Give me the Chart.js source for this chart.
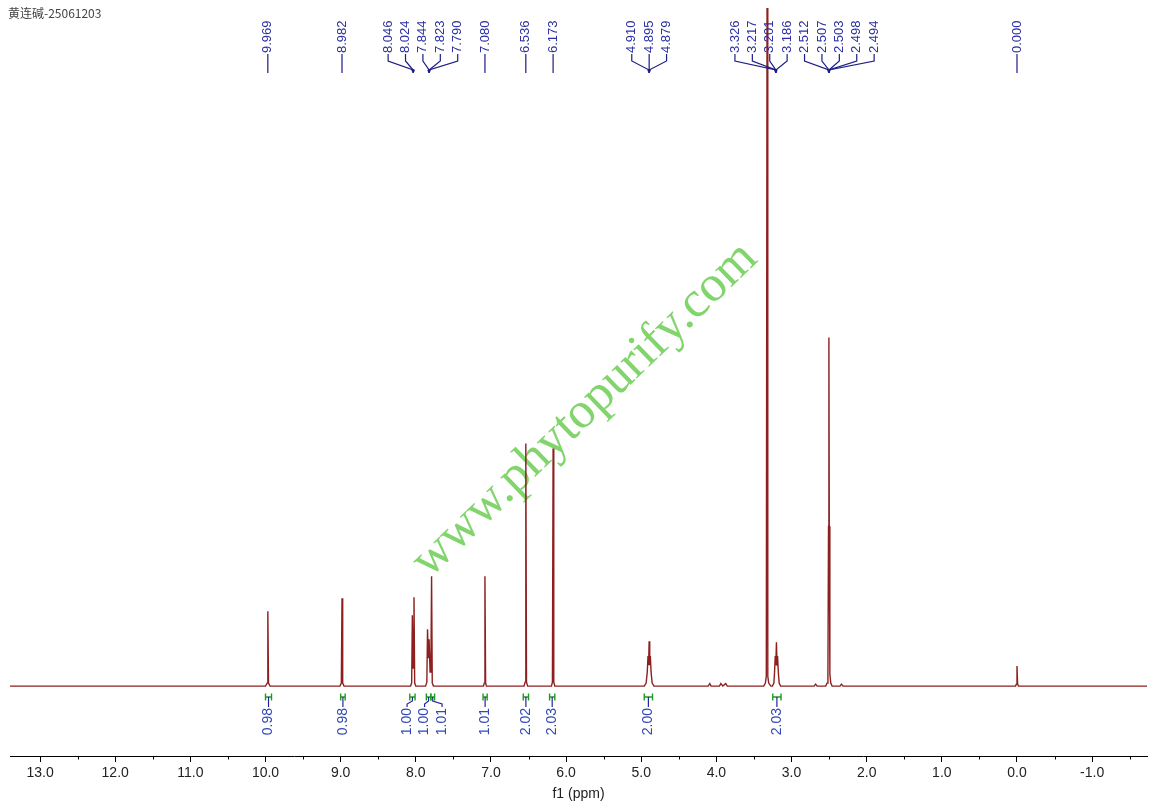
<!DOCTYPE html>
<html>
<head>
<meta charset="utf-8">
<script src="https://cdn.jsdelivr.net/npm/chart.js@4.4.0/dist/chart.umd.min.js"></script>
<style>
html, body { margin: 0; padding: 0; background: #fff; }
</style>
</head>
<body>
<canvas id="nmr" width="1153" height="809"></canvas>
<script>
// spectrum: [ppm, intensity]
const spectrum = [
  [13.40, 0],
  [10.000, 0], [9.978, 3], [9.969, 75], [9.960, 3], [9.940, 0],
  [9.010, 0], [8.991, 3], [8.982, 88], [8.973, 3], [8.955, 0],
  [8.070, 0], [8.055, 3], [8.046, 71], [8.035, 18], [8.024, 89], [8.015, 3], [8.000, 0],
  [7.870, 0], [7.853, 4], [7.844, 57], [7.833, 28], [7.823, 47], [7.810, 14], [7.799, 18], [7.790, 110], [7.781, 3], [7.765, 0],
  [7.100, 0], [7.089, 3], [7.080, 110], [7.071, 3], [7.060, 0],
  [6.560, 0], [6.545, 4], [6.536, 243], [6.527, 4], [6.512, 0],
  [6.195, 0], [6.182, 4], [6.173, 238], [6.164, 4], [6.150, 0],
  [4.960, 0], [4.935, 3], [4.920, 14], [4.910, 30], [4.902, 21], [4.895, 45], [4.887, 21], [4.879, 30], [4.869, 14], [4.855, 3], [4.830, 0],
  [4.110, 0], [4.088, 2.5], [4.070, 0],
  [3.960, 0], [3.940, 2.5], [3.915, 0], [3.876, 2.5], [3.855, 0],
  [3.370, 0], [3.348, 3], [3.336, 10], [3.326, 690], [3.316, 10], [3.304, 3], [3.275, 0],
  [3.255, 0], [3.235, 3], [3.226, 14], [3.217, 30], [3.209, 21], [3.201, 44], [3.193, 21], [3.186, 30], [3.176, 14], [3.165, 3], [3.145, 0],
  [2.700, 0], [2.680, 2], [2.660, 0],
  [2.545, 0], [2.528, 3], [2.516, 12], [2.508, 160], [2.503, 349], [2.498, 160], [2.490, 12], [2.478, 3], [2.460, 0],
  [2.355, 0], [2.336, 2], [2.315, 0],
  [0.020, 0], [0.008, 2], [0.000, 20], [-0.008, 2], [-0.020, 0],
  [-1.73, 0]
]

// peak picks, grouped the way the lines join
const peakGroups = [
  ['9.969'], ['8.982'], ['8.046', '8.024'], ['7.844', '7.823', '7.790'],
  ['7.080'], ['6.536'], ['6.173'], ['4.910', '4.895', '4.879'],
  ['3.326', '3.217', '3.201', '3.186'],
  ['2.512', '2.507', '2.503', '2.498', '2.494'], ['0.000']
]

// integrals
const intFrom  = [10.00, 9.00, 8.08, 7.86, 7.80, 7.105, 6.57, 6.22, 4.96, 3.25]
const intTo    = [9.92, 8.94, 8.01, 7.80, 7.75, 7.05, 6.50, 6.15, 4.85, 3.14]
const intValue = [0.98, 0.98, 1.00, 1.00, 1.01, 1.01, 2.02, 2.03, 2.00, 2.03]

const tickValues = [13, 12, 11, 10, 9, 8, 7, 6, 5, 4, 3, 2, 1, 0, -1]
const minorTicks = [13.5, 12.5, 11.5, 10.5, 9.5, 8.5, 7.5, 6.5, 5.5, 4.5, 3.5, 2.5, 1.5, 0.5, -0.5, -1.5]

const sampleName = '黄连碱-25061203'
const watermark = 'www.phytopurify.com'

const SANS = '"Liberation Sans", Arial, sans-serif'

// push labels apart so they keep a fixed gap, centred on their targets
function spread(targets, gap) {
  let cl = targets.map((t, i) => ({ idx: [i], c: t }))
  let changed = true
  while (changed) {
    changed = false
    for (let i = 0; i < cl.length - 1; i++) {
      const a = cl[i], b = cl[i + 1]
      const aEnd = a.c + (a.idx.length - 1) / 2 * gap
      const bStart = b.c - (b.idx.length - 1) / 2 * gap
      if (bStart - aEnd < gap) {
        const idx = a.idx.concat(b.idx)
        const c = idx.reduce((s, k) => s + targets[k], 0) / idx.length
        cl.splice(i, 2, { idx: idx, c: c })
        changed = true
        break
      }
    }
  }
  const pos = []
  cl.forEach(g => g.idx.forEach((k, j) => { pos[k] = g.c + (j - (g.idx.length - 1) / 2) * gap }))
  return pos
}

function median(a) {
  const s = a.slice().sort((p, q) => p - q)
  const m = Math.floor(s.length / 2)
  return s.length % 2 ? s[m] : (s[m - 1] + s[m]) / 2
}

const annotate = {
  id: 'annotate',
  beforeDatasetsDraw(chart) {
    const ctx = chart.ctx
    ctx.save()
    ctx.translate(585, 410)
    ctx.rotate(-44 * Math.PI / 180)
    ctx.font = '51px "Liberation Serif", "Times New Roman", serif'
    ctx.fillStyle = 'rgb(130,212,108)'
    ctx.textAlign = 'center'
    ctx.textBaseline = 'middle'
    ctx.fillText(watermark, 0, 0)
    ctx.restore()
  },
  afterDraw(chart) {
    const ctx = chart.ctx
    const xs = chart.scales.x
    const px = v => xs.getPixelForValue(v)
    const axisY = chart.chartArea.bottom

    // minor ticks
    ctx.save()
    ctx.strokeStyle = '#000'
    ctx.lineWidth = 1
    minorTicks.forEach(v => {
      const x = Math.round(px(v)) + 0.5
      if (x < chart.chartArea.left || x > chart.chartArea.right) return
      ctx.beginPath()
      ctx.moveTo(x, axisY)
      ctx.lineTo(x, axisY + 3.5)
      ctx.stroke()
    })
    ctx.restore()

    // sample name
    ctx.save()
    ctx.font = '12px "Noto Sans CJK SC", sans-serif'
    ctx.fillStyle = '#444'
    ctx.textBaseline = 'middle'
    ctx.fillText(sampleName, 8, 13)
    ctx.restore()

    // peak labels
    const flat = []
    peakGroups.forEach(g => {
      const conv = median(g.map(t => px(parseFloat(t))))
      g.forEach(t => flat.push({ text: t, x: px(parseFloat(t)), conv: conv }))
    })
    const lpos = spread(flat.map(f => f.x), 17.4)
    ctx.save()
    ctx.font = '13px ' + SANS
    ctx.fillStyle = '#2b2fa3'
    ctx.strokeStyle = '#1c1c86'
    ctx.lineWidth = 1.2
    flat.forEach((f, i) => {
      const lx = lpos[i]
      ctx.save()
      ctx.translate(lx, 53)
      ctx.rotate(-Math.PI / 2)
      ctx.textAlign = 'left'
      ctx.textBaseline = 'middle'
      ctx.fillText(f.text, 0, 0)
      ctx.restore()
      ctx.beginPath()
      ctx.moveTo(lx, 54)
      ctx.lineTo(lx, 61)
      ctx.lineTo(f.conv, 70)
      ctx.lineTo(f.conv, 73)
      ctx.stroke()
    })
    peakGroups.forEach(g => {
      if (g.length < 2) return
      const conv = median(g.map(t => px(parseFloat(t))))
      ctx.beginPath()
      ctx.arc(conv, 70.5, 1.6, 0, Math.PI * 2)
      ctx.fillStyle = '#1c1c86'
      ctx.fill()
    })
    ctx.restore()

    // integrals
    const mids = intFrom.map((f, i) => (px(f) + px(intTo[i])) / 2)
    const ipos = spread(mids, 17.5)
    ctx.save()
    intFrom.forEach((f, i) => {
      const x1 = px(f), x2 = px(intTo[i])
      ctx.strokeStyle = '#1f9a22'
      ctx.lineWidth = 1.4
      ctx.beginPath()
      ctx.moveTo(x1, 693.5); ctx.lineTo(x1, 700.5)
      ctx.moveTo(x2, 693.5); ctx.lineTo(x2, 700.5)
      ctx.moveTo(x1, 697); ctx.lineTo(x2, 697)
      ctx.stroke()

      const nx = ipos[i], m = mids[i]
      ctx.strokeStyle = '#24249a'
      ctx.lineWidth = 1.2
      ctx.beginPath()
      ctx.moveTo(m, 697)
      if (Math.abs(nx - m) < 0.5) {
        ctx.lineTo(m, 707)
      } else {
        ctx.lineTo(m, 701)
        ctx.lineTo(nx, 704)
        ctx.lineTo(nx, 707)
      }
      ctx.stroke()

      ctx.save()
      ctx.translate(nx, 708)
      ctx.rotate(-Math.PI / 2)
      ctx.font = '14px ' + SANS
      ctx.fillStyle = '#3348b8'
      ctx.textAlign = 'right'
      ctx.textBaseline = 'middle'
      ctx.fillText(intValue[i].toFixed(2), 0, 0)
      ctx.restore()
    })
    ctx.restore()
  }
}

new Chart('nmr', {
  type: 'line',
  data: {
    datasets: [{
      data: spectrum.map(p => ({ x: p[0], y: p[1] })),
      borderColor: '#8d1f1f',
      borderWidth: 1.4,
      pointRadius: 0,
      tension: 0,
      fill: false
    }]
  },
  options: {
    responsive: false,
    animation: false,
    events: [],
    layout: { padding: { left: 10, right: 6, top: 8, bottom: 6.4 } },
    plugins: { legend: { display: false }, tooltip: { enabled: false } },
    scales: {
      x: {
        type: 'linear',
        reverse: true,
        min: -1.73,
        max: 13.4,
        afterBuildTicks: axis => { axis.ticks = tickValues.map(v => ({ value: v })) },
        border: { display: true, color: '#000', width: 1 },
        grid: { display: true, drawOnChartArea: false, drawTicks: true, tickLength: 6, color: '#000' },
        ticks: {
          autoSkip: false,
          maxRotation: 0,
          padding: 3,
          color: '#222',
          font: { family: SANS, size: 14 },
          callback: v => v.toFixed(1)
        },
        title: {
          display: true,
          text: 'f1 (ppm)',
          color: '#222',
          font: { family: SANS, size: 14 },
          padding: { top: 1, bottom: 0 }
        }
      },
      y: { display: false, min: -70, max: 679 }
    }
  },
  plugins: [annotate]
})
</script>
</body>
</html>
